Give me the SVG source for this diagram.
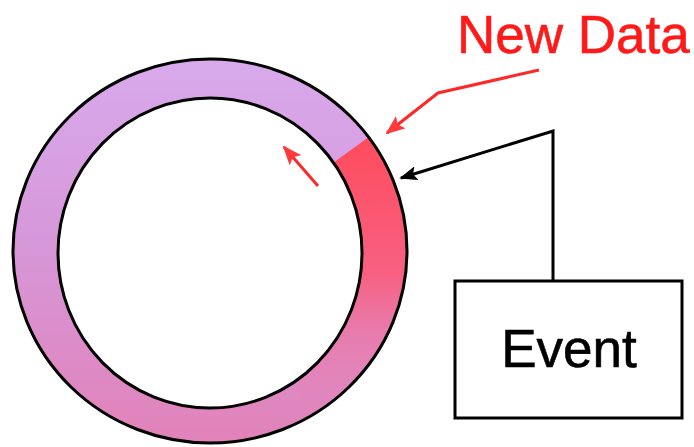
<svg xmlns="http://www.w3.org/2000/svg" width="694" height="447" viewBox="0 0 694 447">
<style>
.lbl{font-family:"Liberation Sans",Arial,sans-serif;font-size:53px}
.red{stroke:#ff2828;stroke-width:3;fill:none}
.blk{stroke:#000;stroke-width:3;fill:none}
</style>
<defs>
<linearGradient id="base" x1="0" y1="60" x2="0" y2="445" gradientUnits="userSpaceOnUse">
<stop offset="0" stop-color="#d8aaec"/>
<stop offset="0.5" stop-color="#d696d8"/>
<stop offset="1" stop-color="#e282b8"/>
</linearGradient>
<linearGradient id="hot" x1="0" y1="130" x2="0" y2="420" gradientUnits="userSpaceOnUse">
<stop offset="0" stop-color="#ff4a5a"/>
<stop offset="0.5" stop-color="#fb5a78" stop-opacity="0.9"/>
<stop offset="1" stop-color="#e884b8" stop-opacity="0"/>
</linearGradient>
<clipPath id="ring">
<path d="M13,251 a197,192 0 1,0 394,0 a197,192 0 1,0 -394,0 Z M58,253 a152,155 0 1,1 304,0 a152,155 0 1,1 -304,0 Z" clip-rule="evenodd"/>
</clipPath>
<marker id="ar" viewBox="0 0 10 8" refX="9" refY="4" markerWidth="6.5" markerHeight="5.2" orient="auto" markerUnits="strokeWidth">
<path d="M0,0 L10,4 L0,8 L2,4 Z" fill="#ff3a3a"/>
</marker>
<marker id="ab" viewBox="0 0 10 8" refX="9" refY="4" markerWidth="6" markerHeight="4.8" orient="auto" markerUnits="strokeWidth">
<path d="M0,0 L10,4 L0,8 L2,4 Z" fill="#000"/>
</marker>
</defs>
<g id="buffer">
<path d="M13,251 a197,192 0 1,0 394,0 a197,192 0 1,0 -394,0 Z M58,253 a152,155 0 1,1 304,0 a152,155 0 1,1 -304,0 Z" fill="url(#base)" fill-rule="evenodd"/>
<polygon points="210,252 453,76 470,260 380,520" fill="url(#hot)" clip-path="url(#ring)"/>
<ellipse cx="210" cy="251" rx="197" ry="192" class="blk"/>
<ellipse cx="210" cy="253" rx="152" ry="155" class="blk"/>
</g>
<g id="new-data">
<text x="457" y="53" class="lbl" fill="#ff1a1a" stroke="#ff1a1a" stroke-width="0.6">New Data</text>
</g>
<g id="event">
<rect x="455" y="281" width="227" height="137" fill="#fff" class="blk"/>
<text x="569" y="367" class="lbl" text-anchor="middle" fill="#000" stroke="#000" stroke-width="0.6">Event</text>
</g>
<g id="connectors">
<polyline points="539,70 438,93 387,133" class="red" marker-end="url(#ar)"/>
<line x1="318" y1="186" x2="284" y2="147" class="red" marker-end="url(#ar)"/>
<polyline points="553,281 553,131 401,178" class="blk" marker-end="url(#ab)"/>
</g>
</svg>
